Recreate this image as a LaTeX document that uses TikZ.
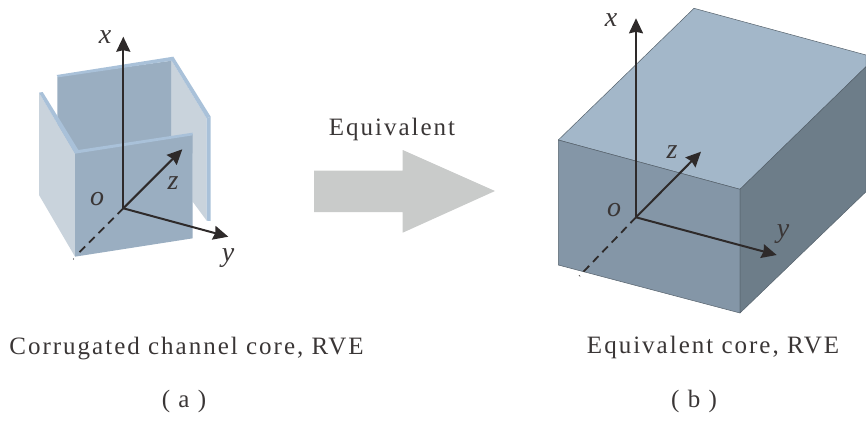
\documentclass[tikz,border=0pt]{standalone}
\usepackage{fontspec}
\setmainfont{Liberation Serif}
\newfontfamily\captfont[LetterSpace=8]{Liberation Serif}
\usetikzlibrary{arrows.meta}
\definecolor{axiscol}{HTML}{2E2A2A}
\definecolor{txtcol}{HTML}{3A3636}
\definecolor{pfront}{HTML}{9AAEC1}
\definecolor{pside}{HTML}{C9D3DC}
\definecolor{pstrip}{HTML}{A9C1D9}
\definecolor{btop}{HTML}{A3B7C9}
\definecolor{bfront}{HTML}{8496A7}
\definecolor{bside}{HTML}{6D7D89}
\definecolor{bedge}{HTML}{56626C}
\definecolor{arrowgrey}{HTML}{C9CBCA}
\tikzset{
  axisline/.style={draw=axiscol,line width=2pt,-{Stealth[length=15pt,width=14pt,inset=1.5pt]}},
  dashline/.style={draw=axiscol,line width=1.8pt,dash pattern=on 8pt off 5.5pt},
  axislabel/.style={font=\fontsize{28}{28}\selectfont\itshape,text=txtcol,inner sep=0pt},
  caption/.style={font=\fontsize{25}{25}\captfont,text=txtcol,inner sep=0pt,anchor=base},
  panelside/.style={fill=pside},
  panelfront/.style={fill=pfront},
  panelstrip/.style={fill=pstrip},
  boxface/.style={draw=bedge,line width=0.5pt,line join=round},
}
\begin{document}
\begin{tikzpicture}[x=1pt,y=-1pt]
\useasboundingbox (0,0) rectangle (866,421);
% arrow
\fill[arrowgrey] (314,170.7) -- (402.7,170.7) -- (402.7,150) -- (495,191) -- (402.7,232.7) -- (402.7,212) -- (314,212) -- cycle;
% left panels (coordinates from 3x crop)
\begin{scope}[shift={(20,20)},scale=0.33333]
  \path[panelfront] (112,170) -- (455,122) -- (455,400) -- (112,400) -- cycle;
  \path[panelside] (455,122) -- (560,295) -- (560,602) -- (518,545) -- (518,400) -- (455,400) -- cycle;
  \path[panelstrip] (110,165) -- (460,110) -- (572,290) -- (560,295) -- (455,122) -- (114,172) -- cycle;
  \path[panelstrip] (560,295) -- (572,290) -- (572,603) -- (560,602) -- cycle;
  \path[panelside] (57,218) -- (165,400) -- (165,710) -- (57,525) -- cycle;
  \path[panelfront] (165,398) -- (518,342) -- (518,655) -- (165,710) -- cycle;
  \path[panelstrip] (57,218) -- (68,216) -- (175,390) -- (518,338) -- (518,346) -- (165,401) -- cycle;
\end{scope}
% right box
\path[boxface,fill=btop] (694,8.3) -- (866,55) -- (866,66.7) -- (740,189.3) -- (558.3,140) -- cycle;
\path[boxface,fill=bfront] (558.3,140) -- (740,189.3) -- (740,313) -- (558.3,265) -- cycle;
\path[boxface,fill=bside] (740,189.3) -- (866,66.7) -- (866,191.7) -- (740,313) -- cycle;
% left axes
\coordinate (oa) at (123.3,208.3);
\coordinate (xa) at (123.3,36.7);
\coordinate (ya) at (228.3,236.7);
\coordinate (za) at (182.3,149.3);
\coordinate (da) at (76.7,255);
\draw[axisline] (oa) -- (xa);
\draw[axisline] (oa) -- (ya);
\draw[axisline] (oa) -- (za);
\draw[dashline] (oa) -- (da);
\fill[axiscol] (73.5,259) circle (0.7pt);
% right axes
\coordinate (ob) at (636,217.3);
\coordinate (xb) at (636,18.3);
\coordinate (yb) at (776.7,255);
\coordinate (zb) at (701,151.7);
\coordinate (db) at (579.3,276);
\draw[axisline] (ob) -- (xb);
\draw[axisline] (ob) -- (yb);
\draw[axisline] (ob) -- (zb);
\draw[dashline] (ob) -- (db);
% axis labels
\node[axislabel] (lxa) at (105,37) {x};
\node[axislabel] (lya) at (228,258) {y};
\node[axislabel] (lza) at (173,183) {z};
\node[axislabel] (loa) at (97,199) {o};
\node[axislabel] (lxb) at (611,20) {x};
\node[axislabel] (lyb) at (783,234) {y};
\node[axislabel] (lzb) at (672,152) {z};
\node[axislabel] (lob) at (614,210) {o};
% captions
\node[caption] (eq) at (392,135) {Equivalent};
\node[caption] (capa) at (186.5,354) {Corrugated channel core, RVE};
\node[caption] (capb) at (713,353) {Equivalent core, RVE};
\node[caption] (suba) at (184,407) {( a )};
\node[caption] (subb) at (694,407) {( b )};
\end{tikzpicture}
\end{document}
